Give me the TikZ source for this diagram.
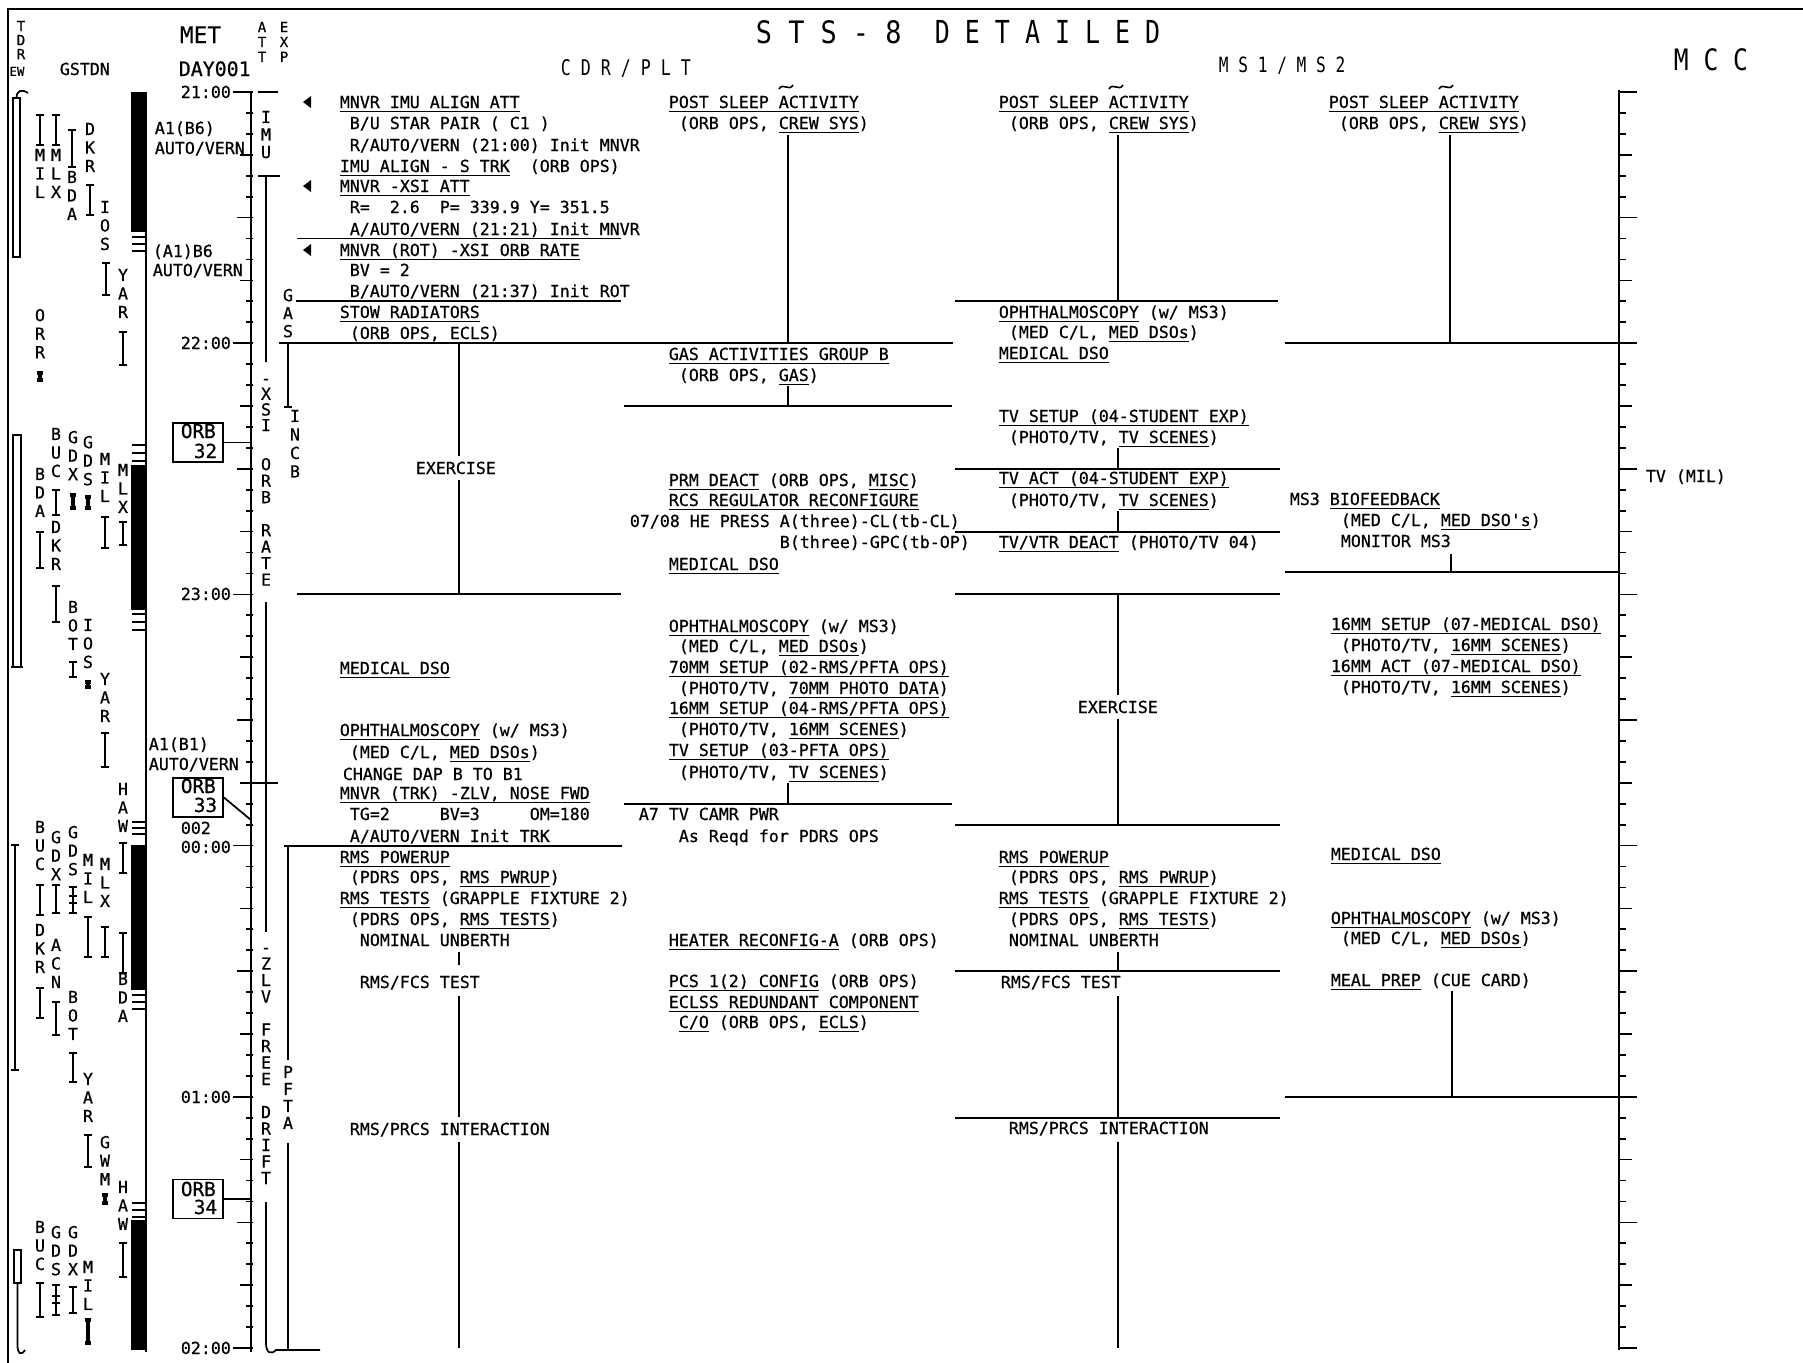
\documentclass[tikz,border=0pt]{standalone}
\usepackage{fontspec}
\setmainfont{DejaVu Sans Mono}
\newfontfamily\tx[FakeBold=0.6]{DejaVu Sans Mono}
\newfontfamily\hx{DejaVu Sans Mono}
\newcounter{tn}
\newcommand\uln[1]{\setbox0\hbox{#1}\rlap{\rule[-2.4pt]{\wd0}{0.8pt}}\box0\relax}
\newcommand\T[3]{\stepcounter{tn}\node[tx] (t\thetn) at (#1,{#2+6}) {#3};}
\newcommand\V[4][10.53]{\stepcounter{tn}\node[vs,font={\tx\fontsize{9.45}{#1}\selectfont}] (v\thetn) at (#2,#3) {#4};}
\newcommand\IB[3]{\draw[ib] ({#1-4},#2) -- ({#1+4},#2) (#1,#2) -- (#1,#3) ({#1-4},#3) -- ({#1+4},#3);}
\newcommand\MK[3]{\draw[mk] ({#1-3},#2) -- ({#1+3},#2) (#1,#2) -- (#1,#3) ({#1-3},#3) -- ({#1+3},#3);}
\newcommand\TLD[2]{\draw[line width=0.9pt] ({#1-7},{#2+2}) .. controls ({#1-3},{#2-5}) and ({#1+3},{#2+5}) .. ({#1+7},{#2-2});}
\newcommand\LARR[2]{\fill ({#1+8},{#2-6}) -- (#1,#2) -- ({#1+8},{#2+6}) -- cycle;}
\tikzset{
  tx/.style={anchor=base west, inner sep=0pt, font=\tx\fontsize{9.45}{11}\selectfont},
  hd/.style={anchor=base west, inner sep=0pt},
  vs/.style={anchor=north, inner sep=0pt, align=center},
  ib/.style={line width=1pt},
  mk/.style={line width=2.2pt},
  sep/.style={line width=1.1pt},
  vl/.style={line width=1pt},
  orb/.style={draw, line width=1.1pt, minimum width=1cm, minimum height=0.78cm, inner sep=0pt},
}
\begin{document}
\begin{tikzpicture}[x=0.02cm,y=-0.02cm,line width=1pt]
\useasboundingbox (0,0) rectangle (1803,1363);
% frame
\draw[line width=1.3pt] (8,1363) -- (8,9) -- (1803,9);
% headers
\node[hd,font=\hx\fontsize{15.3}{17}\selectfont] (title1) at (755,43.5) {\scalebox{1}[1.15]{S~T~S~-~8}};
\node[hd,font=\hx\fontsize{14.2}{16}\selectfont] (title2) at (934,43.5) {\scalebox{1}[1.27]{D~E~T~A~I~L~E~D}};
\node[hd,font=\hx\fontsize{9.45}{11}\selectfont] (hcdr) at (560,75) {\scalebox{1}[1.3]{C~D~R~/~P~L~T}};
\node[hd,font=\hx\fontsize{9.2}{11}\selectfont] (hms) at (1218,72) {\scalebox{1}[1.3]{M~S~1~/~M~S~2}};
\node[hd,font=\hx\fontsize{14}{16}\selectfont] (hmcc) at (1673,70) {\scalebox{1}[1.2]{M~C~C}};
\node[hd,font=\tx\fontsize{13}{14}\selectfont] (hmet) at (179,43) {MET};
\node[hd,font=\tx\fontsize{11.3}{12}\selectfont] (hday) at (178,76) {DAY001};
\node[hd,font=\tx\fontsize{9.45}{11}\selectfont] (hgs) at (59,75) {GSTDN};
\node[vs,font={\tx\fontsize{8}{8.5}\selectfont}] (hatt) at (262,21) {A\\T\\T};
\node[vs,font={\tx\fontsize{8}{8.5}\selectfont}] (hexp) at (284,21) {E\\X\\P};
\node[vs,font={\tx\fontsize{8}{8}\selectfont}] (htdr) at (21,20) {T\\D\\R};
\node[anchor=north,inner sep=0pt,font=\tx\fontsize{7}{8}\selectfont] (hew) at (17,66) {EW};
% TDRS bars
\draw[line width=1.1pt] (13,98) rectangle (20,257);
\draw (16.5,98) .. controls (16.5,90) and (22,89) .. (28,93);
\draw[line width=1.1pt] (13,435) rectangle (21,667);
\draw (11,667) -- (23,667);
\draw (11,845) -- (19,845) (15,845) -- (15,1070) (11,1070) -- (19,1070);
\draw[line width=1.1pt] (14,1250) rectangle (21,1283);
\draw (17.5,1283) -- (17.5,1345) .. controls (17.5,1354) and (21,1356) .. (25,1350);
% ground stations
\V{40}{148}{M\\I\\L}
\V{56}{148}{M\\L\\X}
\V{72}{170}{B\\D\\A}
\V{90}{122}{D\\K\\R}
\V{105}{200}{I\\O\\S}
\V{123}{268}{Y\\A\\R}
\V{40}{308}{O\\R\\R}
\V{56}{427}{B\\U\\C}
\V{56}{520}{D\\K\\R}
\V{40}{467}{B\\D\\A}
\V{73}{430}{G\\D\\X}
\V{88}{435}{G\\D\\S}
\V{105}{452}{M\\I\\L}
\V{123}{463}{M\\L\\X}
\V{73}{600}{B\\O\\T}
\V{88}{618}{I\\O\\S}
\V{105}{672}{Y\\A\\R}
\V{123}{782}{H\\A\\W}
\V{40}{820}{B\\U\\C}
\V{56}{830}{G\\D\\X}
\V{73}{825}{G\\D\\S}
\V{88}{853}{M\\I\\L}
\V{105}{857}{M\\L\\X}
\V{40}{923}{D\\K\\R}
\V{56}{938}{A\\C\\N}
\V{123}{972}{B\\D\\A}
\V{73}{990}{B\\O\\T}
\V{88}{1072}{Y\\A\\R}
\V{105}{1135}{G\\W\\M}
\V{123}{1180}{H\\A\\W}
\V{40}{1220}{B\\U\\C}
\V{56}{1225}{G\\D\\S}
\V{73}{1225}{G\\D\\X}
\V{88}{1260}{M\\I\\L}
\IB{40}{115}{145} \IB{56}{115}{145} \IB{72}{130}{167} \IB{90}{185}{215}
\IB{106}{263}{295} \IB{123}{332}{365} \MK{40}{373}{380}
\IB{56}{490}{515} \IB{56}{586}{622} \IB{40}{532}{568} \MK{73}{495}{508} \MK{88}{497}{508}
\IB{105}{517}{548} \IB{123}{522}{545} \IB{73}{662}{677} \MK{88}{682}{687}
\IB{105}{733}{767} \IB{123}{843}{873}
\IB{40}{885}{915} \IB{56}{885}{913} \IB{73}{887}{913} \draw (69,896) -- (77,896) (69,903) -- (77,903);
\IB{40}{988}{1018} \IB{88}{917}{957} \IB{105}{927}{957} \IB{56}{1002}{1035}
\IB{123}{933}{973} \IB{73}{1053}{1082} \IB{88}{1135}{1167} \MK{105}{1195}{1203}
\IB{123}{1243}{1277} \IB{40}{1283}{1317} \IB{56}{1285}{1315} \draw (52,1296) -- (60,1296) (52,1303) -- (60,1303);
\IB{73}{1287}{1313} \MK{88}{1320}{1343}
% black bars
\fill (131,92) rectangle (147,232);
\fill (131,465) rectangle (147,610);
\fill (131,845) rectangle (147,990);
\fill (131,1220) rectangle (147,1350);
\draw[line width=1.2pt] (146,92) -- (146,1352);
\foreach \y in {237,244,251,445,453,461,614,622,630,822,828,834,995,1002,1009,1203,1210,1217}
  \draw[line width=1.2pt] (132,\y) -- (146,\y);
% left labels
\T{154}{128}{A1(B6)} \T{154}{148}{AUTO/VERN}
\T{152}{251}{(A1)B6} \T{152}{270}{AUTO/VERN}
\T{148}{744}{A1(B1)} \T{148}{764}{AUTO/VERN}
\T{180}{92}{21:00} \T{180}{343}{22:00} \T{180}{594}{23:00}
\T{180}{828}{002} \T{180}{847}{00:00} \T{180}{1097}{01:00} \T{180}{1348}{02:00}
% ORB boxes
\node[orb] (orb32) at (198,442.5) {};
\node[orb] (orb33) at (198,797.5) {};
\node[orb] (orb34) at (198,1199) {};
\node[tx,font=\tx\fontsize{11}{12}\selectfont] (o32a) at (180,438) {ORB};
\node[tx,font=\tx\fontsize{11}{12}\selectfont] (o32b) at (193,458) {32};
\node[tx,font=\tx\fontsize{11}{12}\selectfont] (o33a) at (180,793) {ORB};
\node[tx,font=\tx\fontsize{11}{12}\selectfont] (o33b) at (193,812) {33};
\node[tx,font=\tx\fontsize{11}{12}\selectfont] (o34a) at (180,1196) {ORB};
\node[tx,font=\tx\fontsize{11}{12}\selectfont] (o34b) at (193,1214) {34};
\coordinate (ax32) at (251,442.5);
\coordinate (ax33) at (251,820);
\coordinate (ax34) at (251,1199);
\draw (orb32.east) -- (ax32);
\draw (orb33.east) -- (ax33);
\draw (orb34.east) -- (ax34);
% MET axis
\draw[line width=1.2pt] (251,92) -- (251,1352);
\foreach \m in {0,5,...,300} \draw (246,{92+4.18667*\m}) -- (253,{92+4.18667*\m});
\foreach \m in {15,45,...,285} \draw (240,{92+4.18667*\m}) -- (253,{92+4.18667*\m});
\foreach \m in {30,90,...,270} \draw (237,{92+4.18667*\m}) -- (253,{92+4.18667*\m});
\foreach \m in {0,60,...,300} \draw (233,{92+4.18667*\m}) -- (251,{92+4.18667*\m});
% MCC axis
\draw[line width=1.2pt] (1619,90) -- (1619,1350);
\foreach \m in {0,5,...,300} \draw (1619,{92+4.18667*\m}) -- (1626,{92+4.18667*\m});
\foreach \m in {15,45,...,285} \draw (1619,{92+4.18667*\m}) -- (1632,{92+4.18667*\m});
\foreach \m in {0,30,...,300} \draw (1619,{92+4.18667*\m}) -- (1637,{92+4.18667*\m});
\T{1645}{476}{TV (MIL)}
% ATT column
\draw (258,92) -- (278,92);
\V[9.96]{266}{110}{I\\M\\U}
\draw (258,176) -- (280,176);
\draw (266,176) -- (266,362);
\V[8.93]{266}{378}{-\\X\\S\\I}
\V[9.39]{266}{457}{O\\R\\B\\~\\R\\A\\T\\E}
\draw (266,602) -- (266,932);
\draw (253,783) -- (278,783);
\V[9.39]{266}{947}{-\\Z\\L\\V\\~\\F\\R\\E\\E\\~\\D\\R\\I\\F\\T}
\draw (266,1202) -- (266,1343) .. controls (266,1353) and (271,1355) .. (276,1350) -- (320,1350);
% EXP column
\V[10.24]{288}{288}{G\\A\\S}
\draw[sep] (296,301.3) -- (621,301.3);
\draw[sep] (279,343.2) -- (953,343.2);
\draw (288,343.2) -- (288,407) (284,407) -- (292,407);
\V{295}{409}{I\\N\\C\\B}
\draw[sep] (284,845.6) -- (622,845.6);
\draw (288,845.6) -- (288,1060);
\V[9.67]{288}{1065}{P\\F\\T\\A}
\draw (288,1143) -- (288,1350);
% CDR left
\LARR{303}{102} \LARR{303}{186} \LARR{303}{250}
\T{339}{102}{\uln{MNVR IMU ALIGN ATT}}
\T{349}{123}{B/U STAR PAIR ( C1 )}
\T{349}{145}{R/AUTO/VERN (21:00) Init MNVR}
\T{339}{166}{\uln{IMU ALIGN - S TRK}~~(ORB OPS)}
\T{339}{186}{\uln{MNVR -XSI ATT}}
\T{349}{207}{R=~~2.6~~P=~339.9~Y=~351.5}
\T{349}{229}{A/AUTO/VERN (21:21) Init MNVR}
\draw[sep] (297,238.5) -- (621,238.5);
\T{339}{250}{\uln{MNVR (ROT) -XSI ORB RATE}}
\T{349}{270}{BV = 2}
\T{349}{291}{B/AUTO/VERN (21:37) Init ROT}
\T{339}{312}{\uln{STOW RADIATORS}}
\T{349}{333}{(ORB OPS, \uln{ECLS})}
\draw[vl] (459,343.2) -- (459,456) (459,480) -- (459,594.4);
\T{415}{468}{EXERCISE}
\draw[sep] (297,594.4) -- (621,594.4);
\T{339}{668}{\uln{MEDICAL DSO}}
\T{339}{730}{\uln{OPHTHALMOSCOPY} (w/ MS3)}
\T{349}{752}{(MED C/L, \uln{MED DSOs})}
\T{342}{774}{CHANGE DAP B TO B1}
\T{339}{793}{\uln{MNVR (TRK) -ZLV, NOSE FWD}}
\T{349}{814}{TG=2~~~~~BV=3~~~~~OM=180}
\T{349}{836}{A/AUTO/VERN Init TRK}
\T{339}{857}{\uln{RMS POWERUP}}
\T{349}{877}{(PDRS OPS, \uln{RMS PWRUP})}
\T{339}{898}{\uln{RMS TESTS} (GRAPPLE FIXTURE 2)}
\T{349}{919}{(PDRS OPS, \uln{RMS TESTS})}
\T{359}{940}{NOMINAL UNBERTH}
\T{359}{982}{RMS/FCS TEST}
\T{349}{1129}{RMS/PRCS INTERACTION}
\draw[vl] (459,952) -- (459,965) (459,996) -- (459,1117) (459,1142) -- (459,1348);
% CDR right
\TLD{786}{87}
\T{668}{102}{\uln{POST SLEEP ACTIVITY}}
\T{678}{123}{(ORB OPS, \uln{CREW SYS})}
\draw[vl] (788,135) -- (788,343.2);
\T{668}{354}{\uln{GAS ACTIVITIES GROUP B}}
\T{678}{375}{(ORB OPS, \uln{GAS})}
\draw[vl] (788,386) -- (788,406);
\draw[sep] (624,406) -- (952,406);
\T{668}{480}{\uln{PRM DEACT} (ORB OPS, \uln{MISC})}
\T{668}{500}{\uln{RCS REGULATOR RECONFIGURE}}
\T{629}{521}{07/08 HE PRESS A(three)-CL(tb-CL)}
\T{779}{542}{B(three)-GPC(tb-OP)}
\T{668}{564}{\uln{MEDICAL DSO}}
\T{668}{626}{\uln{OPHTHALMOSCOPY} (w/ MS3)}
\T{678}{646}{(MED C/L, \uln{MED DSOs})}
\T{668}{667}{\uln{70MM SETUP (02-RMS/PFTA OPS)}}
\T{678}{688}{(PHOTO/TV, \uln{70MM PHOTO DATA})}
\T{668}{708}{\uln{16MM SETUP (04-RMS/PFTA OPS)}}
\T{678}{729}{(PHOTO/TV, \uln{16MM SCENES})}
\T{668}{750}{\uln{TV SETUP (03-PFTA OPS)}}
\T{678}{772}{(PHOTO/TV, \uln{TV SCENES})}
\draw[vl] (788,783) -- (788,803.7);
\draw[sep] (624,803.7) -- (952,803.7);
\T{638}{814}{A7 TV CAMR PWR}
\T{678}{836}{As Reqd for PDRS OPS}
\T{668}{940}{\uln{HEATER RECONFIG-A} (ORB OPS)}
\T{668}{981}{\uln{PCS 1(2) CONFIG} (ORB OPS)}
\T{668}{1002}{\uln{ECLSS REDUNDANT COMPONENT}}
\T{678}{1022}{\uln{C/O} (ORB OPS, \uln{ECLS})}
% MS left
\TLD{1116}{87}
\T{998}{102}{\uln{POST SLEEP ACTIVITY}}
\T{1008}{123}{(ORB OPS, \uln{CREW SYS})}
\draw[vl] (1118,135) -- (1118,301.3);
\draw[sep] (955,301.3) -- (1278,301.3);
\T{998}{312}{\uln{OPHTHALMOSCOPY} (w/ MS3)}
\T{1008}{332}{(MED C/L, \uln{MED DSOs})}
\T{998}{353}{\uln{MEDICAL DSO}}
\T{998}{416}{\uln{TV SETUP (04-STUDENT EXP)}}
\T{1008}{437}{(PHOTO/TV, \uln{TV SCENES})}
\draw[vl] (1118,448) -- (1118,468.8);
\draw[sep] (955,468.8) -- (1280,468.8);
\T{998}{478}{\uln{TV ACT (04-STUDENT EXP)}}
\T{1008}{500}{(PHOTO/TV, \uln{TV SCENES})}
\draw[vl] (1118,511) -- (1118,531.6);
\draw[sep] (955,531.6) -- (1280,531.6);
\T{998}{542}{\uln{TV/VTR DEACT} (PHOTO/TV 04)}
\draw[sep] (955,594.4) -- (1280,594.4);
\draw[vl] (1118,594.4) -- (1118,695) (1118,719) -- (1118,824.7);
\T{1077}{707}{EXERCISE}
\draw[sep] (955,824.7) -- (1280,824.7);
\T{998}{857}{\uln{RMS POWERUP}}
\T{1008}{877}{(PDRS OPS, \uln{RMS PWRUP})}
\T{998}{898}{\uln{RMS TESTS} (GRAPPLE FIXTURE 2)}
\T{1008}{919}{(PDRS OPS, \uln{RMS TESTS})}
\T{1008}{940}{NOMINAL UNBERTH}
\draw[vl] (1118,952) -- (1118,971.2);
\draw[sep] (955,971.2) -- (1280,971.2);
\T{1000}{982}{RMS/FCS TEST}
\draw[vl] (1118,996) -- (1118,1117.7);
\draw[sep] (955,1117.7) -- (1280,1117.7);
\T{1008}{1128}{RMS/PRCS INTERACTION}
\draw[vl] (1118,1142) -- (1118,1348);
% MS right
\TLD{1446}{87}
\T{1328}{102}{\uln{POST SLEEP ACTIVITY}}
\T{1338}{123}{(ORB OPS, \uln{CREW SYS})}
\draw[vl] (1450,135) -- (1450,343.2);
\draw[sep] (1285,343.2) -- (1619,343.2);
\T{1289}{499}{MS3 \uln{BIOFEEDBACK}}
\T{1340}{520}{(MED C/L, \uln{MED DSO's})}
\T{1340}{541}{MONITOR MS3}
\draw[vl] (1451,554) -- (1451,572);
\draw[sep] (1285,572) -- (1619,572);
\T{1330}{624}{\uln{16MM SETUP (07-MEDICAL DSO)}}
\T{1340}{645}{(PHOTO/TV, \uln{16MM SCENES})}
\T{1330}{666}{\uln{16MM ACT (07-MEDICAL DSO)}}
\T{1340}{687}{(PHOTO/TV, \uln{16MM SCENES})}
\T{1330}{854}{\uln{MEDICAL DSO}}
\T{1330}{918}{\uln{OPHTHALMOSCOPY} (w/ MS3)}
\T{1340}{938}{(MED C/L, \uln{MED DSOs})}
\T{1330}{980}{\uln{MEAL PREP} (CUE CARD)}
\draw[vl] (1452,991) -- (1452,1096.8);
\draw[sep] (1285,1096.8) -- (1619,1096.8);
\end{tikzpicture}
\end{document}
